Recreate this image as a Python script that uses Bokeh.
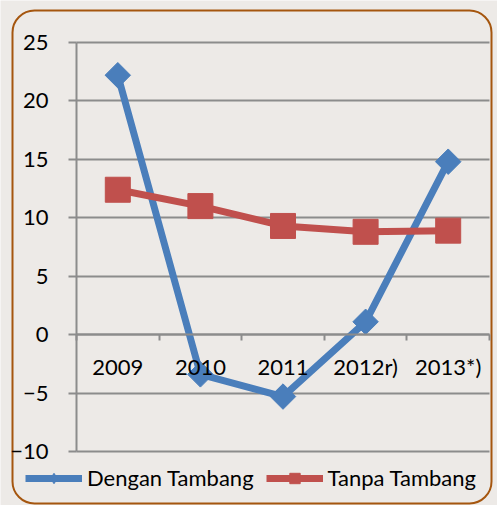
import numpy as np
from bokeh.plotting import figure
from bokeh.models import Range1d, FixedTicker, Legend, LegendItem, BoxAnnotation
from bokeh.embed import file_html
from bokeh.resources import INLINE

categories = ["2009", "2010", "2011", "2012r)", "2013*)"]
dengan_tambang = [22.2, -3.4, -5.3, 1.1, 14.8]
tanpa_tambang = [12.4, 11.0, 9.3, 8.8, 8.9]
y_ticks = [-10, -5, 0, 5, 10, 15, 20, 25]

FONT = "Lato"
FSIZE = "22px"
BG = "#EDEAE7"
GRID = "#8C8C8C"
BLUE = "#4A7EBB"
RED = "#C0504D"
BORDER = "#A5560F"

# canvas size and where the data box should sit on it (pixels)
W, H = 497, 505
PX_LEFT, PX_RIGHT, PX_TOP, PX_BOTTOM = 76, 489, 42, 451
n = len(categories)
y_lo, y_hi = y_ticks[0], y_ticks[-1]
sx = (PX_RIGHT - PX_LEFT) / n
sy = (PX_BOTTOM - PX_TOP) / (y_hi - y_lo)
x_start = -PX_LEFT / sx
x_end = n + (W - PX_RIGHT) / sx
y_end = y_hi + PX_TOP / sy
y_start = y_lo - (H - PX_BOTTOM) / sy

def xd(px):
    return (px - PX_LEFT) / sx

def yd(py):
    return y_hi - (py - PX_TOP) / sy

xs = [i + 0.5 for i in range(n)]

p = figure(width=W, height=H, output_backend="svg", toolbar_location=None,
           x_range=Range1d(x_start, x_end), y_range=Range1d(y_start, y_end),
           min_border_left=0, min_border_right=0, min_border_top=0, min_border_bottom=0)
p.background_fill_color = BG
p.border_fill_color = BG
p.outline_line_color = None

# rounded chart border
p.add_layout(BoxAnnotation(left=xd(12), right=xd(491), top=yd(10), bottom=yd(503),
                           fill_color=None, fill_alpha=0, line_color=BORDER, line_alpha=1,
                           line_width=2, border_radius=22, level="underlay"))

# y axis at x = 0
p.yaxis.fixed_location = 0
p.yaxis.bounds = (y_lo, y_hi)
p.yaxis.ticker = FixedTicker(ticks=y_ticks)
p.yaxis.axis_line_color = GRID
p.yaxis.axis_line_width = 2
p.yaxis.major_tick_line_color = GRID
p.yaxis.major_tick_line_width = 2
p.yaxis.major_tick_out = 8
p.yaxis.major_tick_in = 0
p.yaxis.minor_tick_line_color = None
p.yaxis.major_label_text_font = FONT
p.yaxis.major_label_text_font_size = FSIZE
p.yaxis.major_label_text_color = "black"
p.yaxis.major_label_standoff = 20

# x axis at y = 0
p.xaxis.fixed_location = 0
p.xaxis.bounds = (0, n)
p.xaxis.ticker = FixedTicker(ticks=xs, minor_ticks=list(range(n + 1)))
p.xaxis.major_label_overrides = {x: c for x, c in zip(xs, categories)}
p.xaxis.major_tick_line_color = None
p.xaxis.minor_tick_line_color = GRID
p.xaxis.minor_tick_line_width = 2
p.xaxis.minor_tick_out = 6
p.xaxis.minor_tick_in = 0
p.xaxis.axis_line_color = GRID
p.xaxis.axis_line_width = 2
p.xaxis.major_label_text_font = FONT
p.xaxis.major_label_text_font_size = FSIZE
p.xaxis.major_label_text_color = "black"
p.xaxis.major_label_standoff = 12

p.xgrid.grid_line_color = None
p.ygrid.ticker = FixedTicker(ticks=y_ticks)
p.ygrid.cross_bounds = (0, n)
p.ygrid.grid_line_color = GRID
p.ygrid.grid_line_width = 2

l1 = p.line(xs, dengan_tambang, line_color=BLUE, line_width=7)
# narrow diamond used as the legend swatch; hidden under the larger markers
leg_m1 = p.scatter(xs, dengan_tambang, marker="diamond", size=16,
                   fill_color=BLUE, line_color=BLUE)
m1 = p.scatter(xs, dengan_tambang, marker="square", angle=np.pi / 4, size=18,
               fill_color=BLUE, line_color=BLUE)
l2 = p.line(xs, tanpa_tambang, line_color=RED, line_width=7)
m2 = p.scatter(xs, tanpa_tambang, marker="square", size=25,
               fill_color=RED, line_color=RED)

legend = Legend(items=[LegendItem(label="Dengan Tambang", renderers=[l1, leg_m1]),
                       LegendItem(label="Tanpa Tambang", renderers=[l2, m2])],
                orientation="horizontal", location=(25, 14),
                glyph_width=57, glyph_height=26, label_standoff=5, spacing=12,
                padding=0, margin=0, border_line_color=None, background_fill_alpha=0,
                label_text_font=FONT, label_text_font_size=FSIZE, label_text_color="black")
p.add_layout(legend, "center")

open("out.html", "w").write(file_html(p, INLINE))
